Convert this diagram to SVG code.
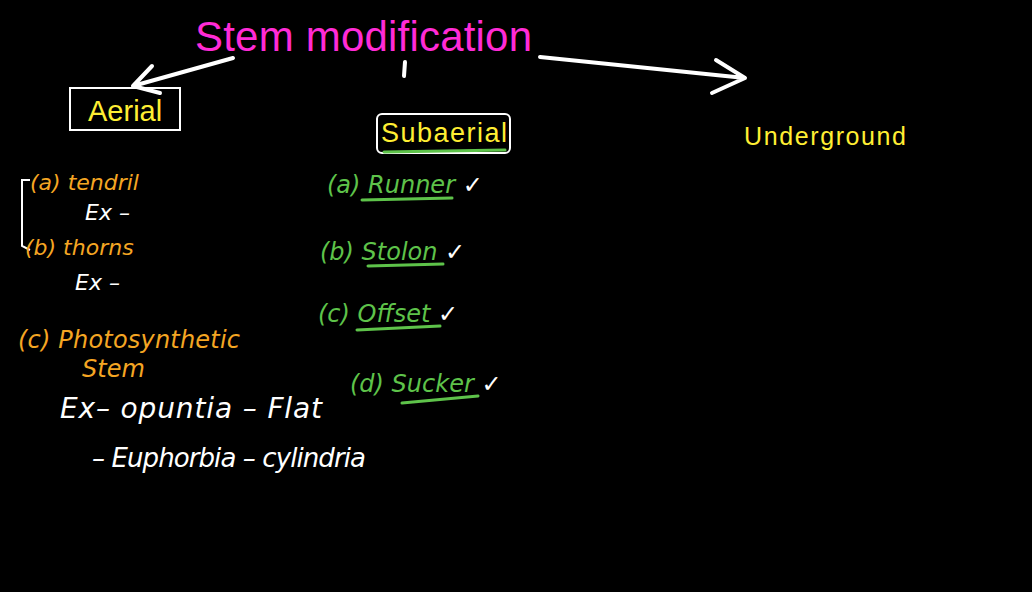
<svg xmlns="http://www.w3.org/2000/svg" width="1032" height="592" viewBox="0 0 1032 592">
<style>
.w{fill:#fff}.o{fill:#f5a623}.g{fill:#5ec34a}.y{fill:#ffee33}
text{font-family:"Liberation Sans",Arial,sans-serif}
.h{font-family:"DejaVu Sans",sans-serif;font-style:italic}
.ln{stroke:#fff;stroke-width:4;fill:none;stroke-linecap:round;stroke-linejoin:round}
.gl{stroke:#5ec34a;stroke-width:3;fill:none;stroke-linecap:round}
</style>
<rect width="1032" height="592" fill="#000"/>
<g id="title"><text x="195" y="51" font-size="42" fill="#ff2bd6" textLength="337">Stem modification</text></g>
<g id="connectors">
<path class="ln" d="M233 58 L133 86 M152 66 L133 86 L160 93"/>
<path class="ln" d="M405 62 L404 76"/>
<path class="ln" d="M540 57 L745 78 M716 60 L745 78 L712 93"/>
</g>
<g id="aerial"><rect x="70" y="88" width="110" height="42" fill="none" stroke="#fff" stroke-width="2"/><text class="y" x="88" y="121" font-size="29">Aerial</text></g>
<g id="subaerial"><rect x="377" y="114" width="133" height="39" rx="5" fill="none" stroke="#fff" stroke-width="2"/><text class="y" x="381" y="142" font-size="27" textLength="126">Subaerial</text><path class="gl" d="M384 152 L505 150"/></g>
<g id="underground"><text class="y" x="744" y="145" font-size="25" textLength="162">Underground</text></g>
<g id="aerial-list">
<path d="M30 180 L22 180 L22 246 L30 250" stroke="#fff" stroke-width="2" fill="none"/>
<text class="o h" x="30" y="190" font-size="22">(a) tendril</text>
<text class="w h" x="85" y="220" font-size="22">Ex –</text>
<text class="o h" x="25" y="255" font-size="22">(b) thorns</text>
<text class="w h" x="75" y="290" font-size="22">Ex –</text>
<text class="o h" x="18" y="348" font-size="24" textLength="222">(c) Photosynthetic</text>
<text class="o h" x="82" y="377" font-size="24">Stem</text>
<text class="w h" x="60" y="418" font-size="28" textLength="262">Ex– opuntia – Flat</text>
<text class="w h" x="92" y="467" font-size="26" textLength="274">– Euphorbia – cylindria</text>
</g>
<g id="subaerial-list">
<text class="g h" x="327" y="193" font-size="24">(a) Runner <tspan class="w">✓</tspan></text>
<path class="gl" d="M362 200 L452 198"/>
<text class="g h" x="320" y="260" font-size="24">(b) Stolon <tspan class="w">✓</tspan></text>
<path class="gl" d="M368 266 L443 264"/>
<text class="g h" x="318" y="322" font-size="24">(c) Offset <tspan class="w">✓</tspan></text>
<path class="gl" d="M357 330 L440 326"/>
<text class="g h" x="350" y="392" font-size="24">(d) Sucker <tspan class="w">✓</tspan></text>
<path class="gl" d="M402 403 L478 396"/>
</g>
</svg>
